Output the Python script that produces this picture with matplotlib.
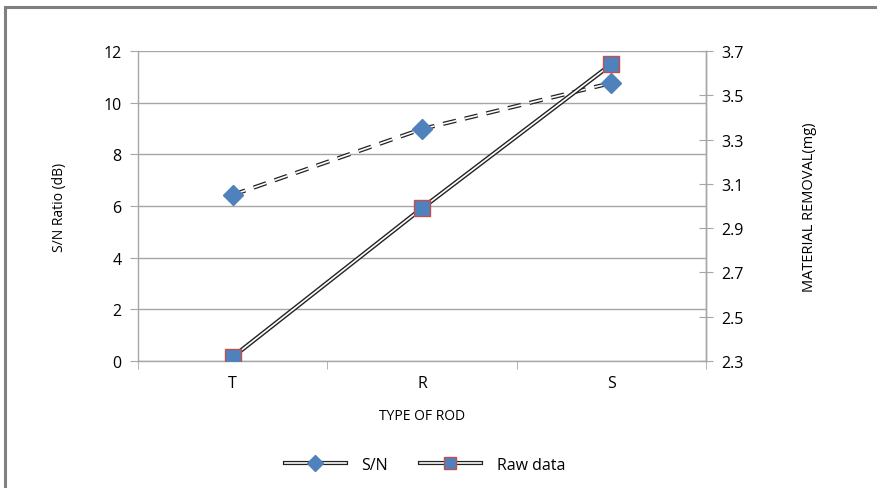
import matplotlib
matplotlib.use("Agg")
import matplotlib.pyplot as plt
import matplotlib.patheffects as pe
from matplotlib.patches import Rectangle
from matplotlib.lines import Line2D
from matplotlib.legend_handler import HandlerTuple

rods = ["T", "R", "S"]
sn_ratio = [6.43, 8.98, 10.76]
raw_data = [2.318, 2.99, 3.64]

GRAY = "#a6a6a6"
BLUE = "#4f81bd"
RED = "#c0504d"
DARK = "#222222"

plt.rcParams["font.family"] = ["Open Sans", "DejaVu Sans"]

fig = plt.figure(figsize=(8.78, 4.89), dpi=100)
fig.patches.append(Rectangle((5 / 878, -0.1), 1.2, 1 - 8 / 489 + 0.1, transform=fig.transFigure,
                             fill=False, edgecolor="#808080", linewidth=2.2))

ax = fig.add_axes([138 / 878, 1 - 362 / 489, (706 - 138) / 878, (362 - 52) / 489])
ax2 = ax.twinx()

outline = [pe.Stroke(linewidth=3, foreground=DARK), pe.Stroke(linewidth=1.2, foreground="white")]

x = list(range(len(rods)))
ax.plot(x, sn_ratio, color=DARK, linewidth=1.6, dashes=(6, 4), path_effects=outline, zorder=3)
ax.plot(x, sn_ratio, linestyle="none", marker="D", markersize=10, color=BLUE, zorder=4)

ax2.plot(x, raw_data, color=DARK, linewidth=2.6,
         path_effects=[pe.Stroke(linewidth=3.2, foreground=DARK), pe.Stroke(linewidth=1.2, foreground="white")],
         zorder=3)
ax2.plot(x, raw_data, linestyle="none", marker="s", markersize=11, markerfacecolor=BLUE,
         markeredgecolor=RED, markeredgewidth=1, zorder=4)

ax.set_xlim(-0.5, 2.5)
ax.set_ylim(0, 12)
ax.set_yticks(range(0, 13, 2))
ax2.set_ylim(2.3, 3.7)
ax2.set_yticks([2.3, 2.5, 2.7, 2.9, 3.1, 3.3, 3.5, 3.7])
ax2.set_yticklabels(["2.3", "2.5", "2.7", "2.9", "3.1", "3.3", "3.5", "3.7"])

ax.set_xticks(x)
ax.set_xticklabels(rods)
ax.set_xticks([-0.5, 0.5, 1.5, 2.5], minor=True)
ax.tick_params(axis="x", which="major", length=0, pad=10, labelsize=11.5)
ax.tick_params(axis="x", which="minor", length=6, color=GRAY, direction="out")
ax.tick_params(axis="y", length=6, color=GRAY, direction="out", labelsize=11.5, pad=6)
ax2.tick_params(axis="y", length=10, color=GRAY, direction="inout", labelsize=11.5, pad=6)

ax.yaxis.grid(True, color=GRAY, linewidth=1)
ax.set_axisbelow(True)
for a in (ax, ax2):
    a.spines["top"].set_visible(False)
    for s in ("left", "right", "bottom"):
        a.spines[s].set_color(GRAY)
        a.spines[s].set_linewidth(1)
ax2.spines["left"].set_visible(False)
ax2.spines["bottom"].set_visible(False)

ax.set_xlabel("TYPE OF ROD", fontsize=10, labelpad=12)
ax.set_ylabel("S/N Ratio (dB)", fontsize=10, labelpad=26)
ax2.set_ylabel("MATERIAL REMOVAL(mg)", fontsize=10.5, labelpad=42, rotation=90)

l1 = Line2D([], [], color=DARK, linewidth=1.6, path_effects=outline)
m1 = Line2D([], [], linestyle="none", marker="D", markersize=8, color=BLUE)
l2 = Line2D([], [], color=DARK, linewidth=2, path_effects=outline)
m2 = Line2D([], [], linestyle="none", marker="s", markersize=9, markerfacecolor=BLUE,
            markeredgecolor=RED)
fig.legend([(l1, m1), (l2, m2)], ["S/N", "Raw data"], loc="center",
           bbox_to_anchor=(425 / 878, 1 - 466 / 489),
           handler_map={tuple: HandlerTuple(ndivide=1)},
           ncol=2, frameon=False, fontsize=11.5, handlelength=3.8, columnspacing=2.0, handletextpad=1.0)

fig.savefig("out.png", dpi=100)
